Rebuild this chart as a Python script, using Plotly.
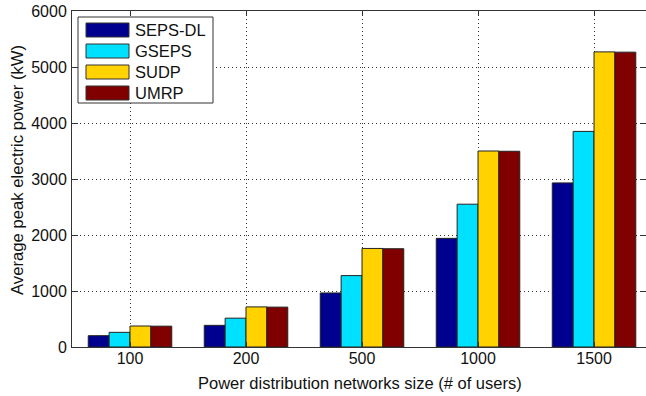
import plotly.graph_objects as go

# Network sizes (number of users) and the average peak electric power (kW)
categories = ["100", "200", "500", "1000", "1500"]
seps_dl = [202, 387, 965, 1940, 2930]
gseps = [262, 515, 1275, 2550, 3850]
sudp = [375, 716, 1760, 3500, 5270]
umrp = [372, 712, 1755, 3495, 5265]

series_names = ["SEPS-DL", "GSEPS", "SUDP", "UMRP"]
series_values = [seps_dl, gseps, sudp, umrp]
series_colors = ["#00008F", "#00E1FF", "#FFD200", "#800000"]

positions = list(range(1, len(categories) + 1))
font_family = "Liberation Sans, Arial, sans-serif"

fig = go.Figure()
for name, vals, col in zip(series_names, series_values, series_colors):
    fig.add_trace(go.Bar(
        x=positions, y=vals, name=name,
        marker=dict(color=col, line=dict(color="#222222", width=1)),
        showlegend=False,
    ))

# invisible trace to drive the mirrored top / right axes
fig.add_trace(go.Scatter(x=[positions[0]], y=[0], xaxis="x2", yaxis="y2",
                         mode="markers", marker=dict(opacity=0),
                         showlegend=False, hoverinfo="skip"))

xrange = [0.5, 5.448]
yrange = [0, 6000]
grid_dash = "1px,3px"

fig.update_layout(
    width=646, height=396,
    margin=dict(l=72, r=0, t=11, b=49),
    paper_bgcolor="white", plot_bgcolor="white",
    font=dict(family=font_family, size=16, color="#111111"),
    barmode="group", bargap=0.28, bargroupgap=0.0,
    xaxis=dict(
        range=xrange, tickmode="array", tickvals=positions, ticktext=categories,
        showgrid=True, gridcolor="#333333", griddash=grid_dash, gridwidth=1,
        showline=True, linecolor="#333333", linewidth=1,
        ticks="inside", ticklen=5, tickcolor="#333333",
        zeroline=False, ticklabelstandoff=-3,
    ),
    yaxis=dict(
        range=yrange, tickmode="array",
        tickvals=[0, 1000, 2000, 3000, 4000, 5000, 6000],
        showgrid=True, gridcolor="#333333", griddash=grid_dash, gridwidth=1,
        showline=True, linecolor="#333333", linewidth=1,
        ticks="inside", ticklen=6, tickcolor="#333333",
        zeroline=False, ticklabelstandoff=1,
    ),
    xaxis2=dict(
        range=xrange, overlaying="x", side="top", anchor="y",
        tickmode="array", tickvals=positions, showticklabels=False,
        showgrid=False, zeroline=False,
        showline=True, linecolor="#333333", linewidth=1,
        ticks="inside", ticklen=5, tickcolor="#333333",
    ),
    yaxis2=dict(
        range=yrange, overlaying="y", side="right", anchor="x",
        tickmode="array", tickvals=[1000, 2000, 3000, 4000, 5000],
        showticklabels=False, showgrid=False, zeroline=False,
        showline=False, ticks="inside", ticklen=6, tickcolor="#333333",
    ),
)

px_w, px_h = 646 - 72, 396 - 11 - 49


def px_to_paper(x, y):
    return (x - 72) / px_w, 1 - (y - 11) / px_h


# Axis titles
tx, ty = px_to_paper(360, 383)
fig.add_annotation(xref="paper", yref="paper", x=tx, y=ty,
                   text="Power distribution networks size (# of users)",
                   showarrow=False, xanchor="center", yanchor="middle",
                   font=dict(size=16.5, family=font_family, color="#111111"))
tx, ty = px_to_paper(17, 170)
fig.add_annotation(xref="paper", yref="paper", x=tx, y=ty,
                   text="Average peak electric power (kW)", textangle=-90,
                   showarrow=False, xanchor="center", yanchor="middle",
                   font=dict(size=16.7, family=font_family, color="#111111"))

# Legend box in the upper-left corner with wide colour swatches
x0, y0 = px_to_paper(78, 17)
x1, y1 = px_to_paper(213, 103)
fig.add_shape(type="rect", xref="paper", yref="paper", x0=x0, y0=y0, x1=x1, y1=y1,
              line=dict(color="#333333", width=1), fillcolor="white", layer="above")
row_centers = [30, 51, 72, 93]
for name, col, yc in zip(series_names, series_colors, row_centers):
    sx0, sy0 = px_to_paper(86, yc - 7)
    sx1, sy1 = px_to_paper(129, yc + 7)
    fig.add_shape(type="rect", xref="paper", yref="paper",
                  x0=sx0, y0=sy0, x1=sx1, y1=sy1,
                  line=dict(color="#333333", width=1), fillcolor=col, layer="above")
    tx, ty = px_to_paper(133, yc)
    fig.add_annotation(xref="paper", yref="paper", x=tx, y=ty, text=name,
                       showarrow=False, xanchor="left", yanchor="middle",
                       font=dict(size=16.5, family=font_family, color="#111111"))

fig.write_html("out.html")
